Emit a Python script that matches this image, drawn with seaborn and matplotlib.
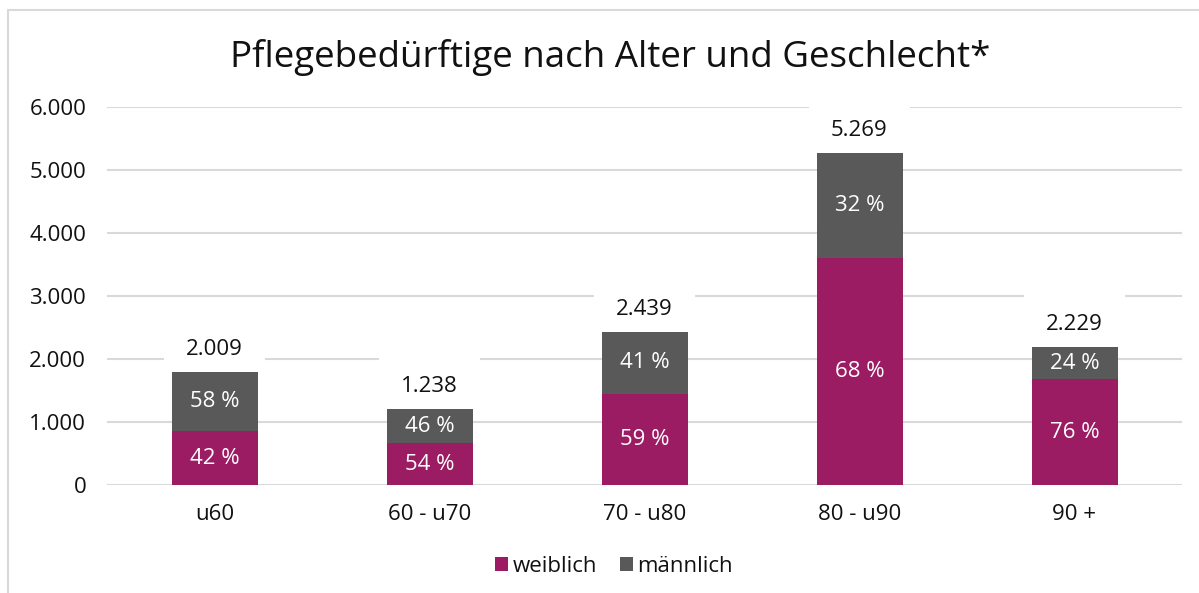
import matplotlib
matplotlib.use("Agg")
import matplotlib.pyplot as plt
import seaborn as sns
import pandas as pd
from matplotlib.patches import Rectangle, Patch

# ---- data ----
categories = ["u60", "60 - u70", "70 - u80", "80 - u90", "90 +"]
weiblich = [852, 666, 1443, 3600, 1677]
maennlich = [940, 539, 984, 1666, 507]
total_labels = ["2.009", "1.238", "2.439", "5.269", "2.229"]
pct_weiblich = ["42 %", "54 %", "59 %", "68 %", "76 %"]
pct_maennlich = ["58 %", "46 %", "41 %", "32 %", "24 %"]
yticks = [0, 1000, 2000, 3000, 4000, 5000, 6000]
ytick_labels = ["0", "1.000", "2.000", "3.000", "4.000", "5.000", "6.000"]
series_names = ["weiblich", "männlich"]
title = "Pflegebedürftige nach Alter und Geschlecht*"

MAG = "#9B1C63"
GRAY = "#595959"
GRID = "#D9D9D9"
FS = 16

sns.set_theme(style="white")
plt.rcParams['font.family'] = ['Open Sans', 'DejaVu Sans']

df = pd.DataFrame({"Alter": categories, "weiblich": weiblich, "maennlich": maennlich})
df["gesamt"] = df["weiblich"] + df["maennlich"]

W, H = 1199, 593
fig = plt.figure(figsize=(W / 100, H / 100), dpi=100)
ax = fig.add_axes([107 / W, 1 - 485 / H, 1075 / W, (485 - 106.7) / H])

sns.barplot(data=df, x="Alter", y="gesamt", order=categories, color=GRAY,
            saturation=1, width=0.4, errorbar=None, linewidth=0, ax=ax)
sns.barplot(data=df, x="Alter", y="weiblich", order=categories, color=MAG,
            saturation=1, width=0.4, errorbar=None, linewidth=0, ax=ax)

for i in range(len(categories)):
    f = df["weiblich"][i]
    m = df["maennlich"][i]
    ax.text(i, f / 2, pct_weiblich[i], ha="center", va="center", color="white", fontsize=FS, zorder=3)
    ax.text(i, f + m / 2, pct_maennlich[i], ha="center", va="center", color="white", fontsize=FS, zorder=3)
    ax.annotate(total_labels[i], xy=(i, f + m), xytext=(0, 16.5), textcoords="offset points",
                ha="center", va="center", fontsize=FS, color="#111111", zorder=0.8,
                bbox=dict(boxstyle="square,pad=1.0", fc="white", ec="none"))

ax.set_xlim(-0.5, len(categories) - 0.5)
ax.set_ylim(0, 6000)
ax.set_yticks(yticks)
ax.set_yticklabels(ytick_labels)
ax.set_xlabel("")
ax.set_ylabel("")
ax.set_axisbelow(True)
ax.yaxis.grid(True, color=GRID, linewidth=1.5)
ax.xaxis.grid(False)
for s in ax.spines.values():
    s.set_visible(False)
ax.tick_params(axis="both", length=0, labelsize=FS, colors="#111111")
ax.tick_params(axis="y", pad=15)
ax.tick_params(axis="x", pad=14)

fig.text(610 / W, 1 - 57 / H, title, ha="center", va="center", fontsize=26.5, color="#111111")

handles = [Patch(facecolor=MAG, edgecolor="none"), Patch(facecolor=GRAY, edgecolor="none")]
fig.legend(handles, series_names, loc="center", bbox_to_anchor=(614 / W, 1 - 566 / H), ncol=2,
           frameon=False, fontsize=FS, handlelength=0.6, handleheight=0.6,
           handletextpad=0.2, columnspacing=1.0, labelcolor="#111111")

fig.patches.append(Rectangle((8 / W, -0.05), 1.1, 1 - 10 / H + 0.05, transform=fig.transFigure,
                             fill=False, edgecolor=GRID, linewidth=1.5))

fig.savefig("out.png", dpi=100)
